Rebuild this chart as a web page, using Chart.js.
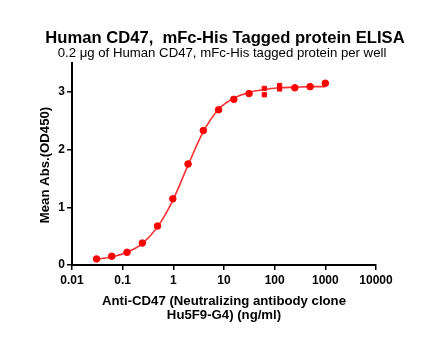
<!DOCTYPE html>
<html>
<head>
<meta charset="utf-8">
<script src="https://cdn.jsdelivr.net/npm/chart.js@4"></script>
<style>
html,body{margin:0;padding:0;background:#fff;}
canvas{display:block;}
</style>
</head>
<body>
<canvas id="c" width="441" height="345"></canvas>
<script>
const conc = [0.0305, 0.061, 0.122, 0.244, 0.488, 0.977, 1.953, 3.906, 7.8125, 15.625, 31.25, 62.5, 125, 250, 500, 1000];
const meanOD = [0.105, 0.152, 0.22, 0.38, 0.675, 1.147, 1.75, 2.33, 2.69, 2.87, 2.97, null, null, 3.07, 3.09, 3.15];
const repConc = [62.5, 62.5, 125, 125];
const repOD = [3.06, 2.95, 3.11, 3.05];
const fitOD = [0.10, 0.14, 0.22, 0.37, 0.66, 1.12, 1.73, 2.31, 2.70, 2.89, 2.99, 3.04, 3.07, 3.08, 3.09, 3.09];
const xTicks = [0.01, 0.1, 1, 10, 100, 1000, 10000];
const xTickLabels = ['0.01', '0.1', '1', '10', '100', '1000', '10000'];
const yTicks = [0, 1, 2, 3];
const titleText = 'Human CD47,  mFc-His Tagged protein ELISA';
const subtitleText = '0.2 \u03bcg of Human CD47, mFc-His tagged protein per well';
const xTitleLines = ['Anti-CD47 (Neutralizing antibody clone', 'Hu5F9-G4) (ng/ml)'];
const yTitleText = 'Mean Abs.(OD450)';

const RED = 'rgb(255,0,0)';
const FONT = "'Liberation Sans', Arial, sans-serif";

const textPlugin = {
  id: 'texts',
  afterDraw(chart) {
    const ctx = chart.ctx;
    const ca = chart.chartArea;
    const cx = (ca.left + ca.right) / 2;
    ctx.save();
    ctx.fillStyle = '#000';
    ctx.textAlign = 'center';
    ctx.textBaseline = 'alphabetic';
    ctx.font = 'bold 16.6px ' + FONT;
    ctx.fillText(titleText, cx + 1, 43);
    ctx.font = '13.2px ' + FONT;
    ctx.fillText(subtitleText, cx - 2, 56.5);
    ctx.font = 'bold 13.2px ' + FONT;
    ctx.fillText(xTitleLines[0], cx, 305);
    ctx.fillText(xTitleLines[1], cx, 318.5);
    ctx.translate(49, (ca.top + ca.bottom) / 2 + 1);
    ctx.rotate(-Math.PI / 2);
    ctx.fillText(yTitleText, 0, 0);
    ctx.restore();
  }
};

new Chart(document.getElementById('c'), {
  type: 'scatter',
  data: {
    datasets: [
      {
        label: 'fit',
        data: conc.map((x, i) => ({x: x, y: fitOD[i]})),
        showLine: true,
        borderColor: 'rgb(255,50,50)',
        borderWidth: 1.6,
        pointRadius: 0,
        cubicInterpolationMode: 'monotone',
        order: 3
      },
      {
        label: 'mean',
        data: conc.map((x, i) => ({x: x, y: meanOD[i]})).filter(p => p.y !== null),
        showLine: false,
        backgroundColor: RED,
        borderColor: RED,
        pointRadius: 3.3,
        pointStyle: 'circle',
        order: 1
      },
      {
        label: 'replicates',
        data: repConc.map((x, i) => ({x: x, y: repOD[i]})),
        showLine: false,
        backgroundColor: RED,
        borderColor: RED,
        pointRadius: 3,
        pointStyle: 'rect',
        order: 2
      }
    ]
  },
  options: {
    responsive: false,
    animation: false,
    layout: {padding: {left: 0, top: 63, right: 65, bottom: 0}},
    plugins: {legend: {display: false}, tooltip: {enabled: false}, title: {display: false}},
    scales: {
      x: {
        type: 'logarithmic',
        min: 0.01,
        max: 10000,
        afterBuildTicks: s => { s.ticks = xTicks.map(v => ({value: v})); },
        afterFit: s => { s.height = 80; },
        ticks: {
          color: '#000',
          font: {family: FONT, size: 12, weight: 'bold'},
          padding: 3,
          maxRotation: 0,
          autoSkip: false,
          callback: (v) => { const i = xTicks.indexOf(v); return i >= 0 ? xTickLabels[i] : ''; }
        },
        grid: {drawOnChartArea: false, drawTicks: true, tickLength: 5, color: '#000', lineWidth: 1.5},
        border: {display: true, color: '#000', width: 2}
      },
      y: {
        type: 'linear',
        min: 0,
        max: 3.5,
        afterBuildTicks: s => { s.ticks = yTicks.map(v => ({value: v})); },
        afterFit: s => { s.width = 72; },
        ticks: {
          color: '#000',
          font: {family: FONT, size: 12, weight: 'bold'},
          padding: 2
        },
        grid: {drawOnChartArea: false, drawTicks: true, tickLength: 5, color: '#000', lineWidth: 1.5},
        border: {display: true, color: '#000', width: 2}
      }
    }
  },
  plugins: [textPlugin]
});
</script>
</body>
</html>
